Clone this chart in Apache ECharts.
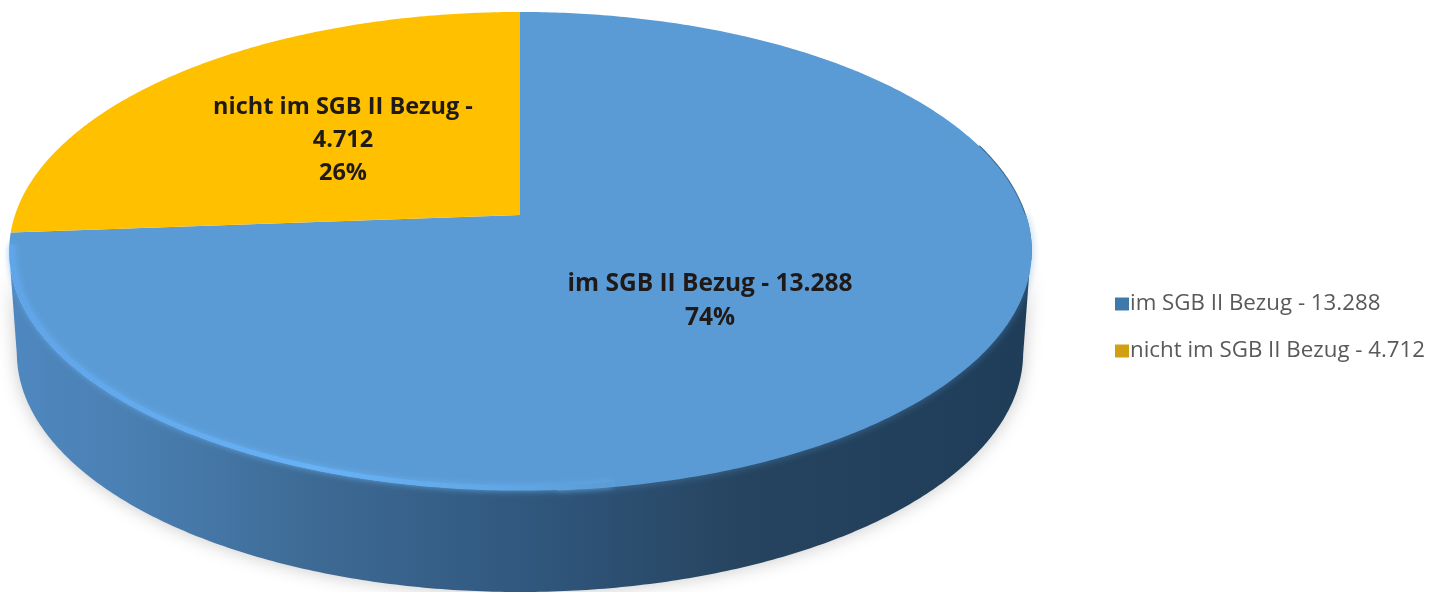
<!DOCTYPE html>
<html lang="de">

<head>
    <meta charset="UTF-8">
    <title>SGB II Bezug</title>
    <style>
        html, body { margin: 0; padding: 0; background: #fff; }
    </style>
</head>

<body>
    <div id="chart" style="width:1431px; height:592px"></div>

    <script src="https://cdn.jsdelivr.net/npm/echarts@6/dist/echarts.min.js"></script>
    <script>
        // daten
        const categories = ['im SGB II Bezug - 13.288', 'nicht im SGB II Bezug - 4.712'];
        const values = [13288, 4712];
        const sliceLabels = ['im SGB II Bezug - 13.288\n74%', 'nicht im SGB II Bezug -\n4.712\n26%'];

        const total = values[0] + values[1];
        const blueSweep = values[0] / total * Math.PI * 2;

        // scheibe in perspektive: einheitskreis -> bildschirm
        const disk = { cx: 520, cy: 215, a: 505, b: 233.6, c: -0.1506 };
        const depth = 102;

        function project(u, v, scale, dy) {
            const w = 1 + disk.c * v;
            return [disk.cx + disk.a * scale * u / w, disk.cy + disk.b * v / w + dy];
        }
        // winkel im uhrzeigersinn ab 12 uhr
        function rimPoint(t, r, scale, dy) {
            return project(r * Math.sin(t), -r * Math.cos(t), scale || 1, dy || 0);
        }
        function arc(from, to, r, scale, dy) {
            const pts = [];
            const n = Math.max(2, Math.ceil(Math.abs(to - from) / 0.01));
            for (let i = 0; i <= n; i++) {
                pts.push(rimPoint(from + (to - from) * i / n, r, scale, dy));
            }
            return pts;
        }

        const labelFont = { fontFamily: '"Open Sans"', fontWeight: 'bold', fontSize: 23.5, lineHeight: 33, fill: '#1f1a17', align: 'center', verticalAlign: 'middle' };

        function renderBlue(params, api) {
            const sweep = api.value(0) / total * Math.PI * 2;
            // seitenwand: untere kante + anschluss an die obere
            const side = arc(Math.PI * 0.55, Math.PI * 1.45, 1, 0.985, depth)
                .concat(arc(Math.PI * 1.45, Math.PI * 0.55, 1, 1, 0));
            return {
                type: 'group',
                children: [
                    {
                        type: 'polygon',
                        shape: { points: side },
                        style: {
                            fill: {
                                type: 'linear', x: 0, y: 0, x2: 1, y2: 0,
                                colorStops: [
                                    { offset: 0, color: '#4f88c0' },
                                    { offset: 0.12, color: '#4a7fb2' },
                                    { offset: 0.3, color: '#3d6a94' },
                                    { offset: 0.5, color: '#31587f' },
                                    { offset: 0.72, color: '#26445f' },
                                    { offset: 1, color: '#1f3d59' }
                                ]
                            },
                            shadowBlur: 18,
                            shadowColor: 'rgba(0,0,0,0.22)'
                        }
                    },
                    // dunkler saum rechts oben
                    {
                        type: 'polyline',
                        shape: { points: arc(Math.PI * 0.4, Math.PI * 0.56, 1) },
                        style: { fill: 'none', lineWidth: 2, stroke: '#3f6688' }
                    },
                    {
                        type: 'polygon',
                        shape: { points: [project(0, 0, 1, 0)].concat(arc(0, sweep, 1)) },
                        style: { fill: '#5b9bd5' }
                    },
                    // weicher uebergang vorne rechts
                    {
                        type: 'polyline',
                        shape: { points: arc(Math.PI * 0.5, Math.PI * 0.98, 1) },
                        style: { fill: 'none', lineWidth: 2, stroke: '#5b9bd5', shadowBlur: 7, shadowColor: '#5b9bd5' }
                    },
                    // heller rand vorne links
                    {
                        type: 'polyline',
                        shape: { points: arc(Math.PI * 1.46, Math.PI * 0.95, 0.994) },
                        style: {
                            fill: 'none',
                            lineWidth: 5,
                            stroke: {
                                type: 'linear', x: 0, y: 0, x2: 1, y2: 0,
                                colorStops: [
                                    { offset: 0, color: '#60a4ea' },
                                    { offset: 0.5, color: '#67b1f5' },
                                    { offset: 0.8, color: '#62a8e6' },
                                    { offset: 1, color: '#5b9bd5' }
                                ]
                            },
                            shadowBlur: 6,
                            shadowColor: 'rgba(100,175,240,0.9)'
                        }
                    },
                    {
                        type: 'text',
                        x: 710, y: 301,
                        style: Object.assign({}, labelFont, { text: sliceLabels[0], lineHeight: 34, fontSize: 24.5 })
                    }
                ]
            };
        }

        function renderYellow(params, api) {
            return {
                type: 'group',
                children: [
                    {
                        type: 'polygon',
                        shape: { points: [project(0, 0, 1, 0)].concat(arc(blueSweep, Math.PI * 2, 1)) },
                        style: { fill: '#ffc000' }
                    },
                    {
                        type: 'text',
                        x: 343, y: 140,
                        style: Object.assign({}, labelFont, { text: sliceLabels[1] })
                    }
                ]
            };
        }

        const chart = echarts.init(document.querySelector('#chart'));

        chart.setOption({
            animation: false,
            backgroundColor: '#fff',
            legend: {
                orient: 'vertical',
                left: 1110,
                top: 288,
                itemWidth: 14,
                itemHeight: 13,
                itemGap: 25,
                icon: 'rect',
                textStyle: { fontFamily: '"Open Sans"', fontSize: 22.3, color: '#595959', padding: [0, 0, 0, -4] },
                data: categories
            },
            series: [
                {
                    name: categories[0],
                    type: 'custom',
                    coordinateSystem: 'none',
                    itemStyle: { color: '#3f78ab' },
                    renderItem: renderBlue,
                    data: [[values[0]]]
                },
                {
                    name: categories[1],
                    type: 'custom',
                    coordinateSystem: 'none',
                    itemStyle: { color: '#d0a012' },
                    renderItem: renderYellow,
                    data: [[values[1]]]
                }
            ]
        });
    </script>
</body>

</html>
